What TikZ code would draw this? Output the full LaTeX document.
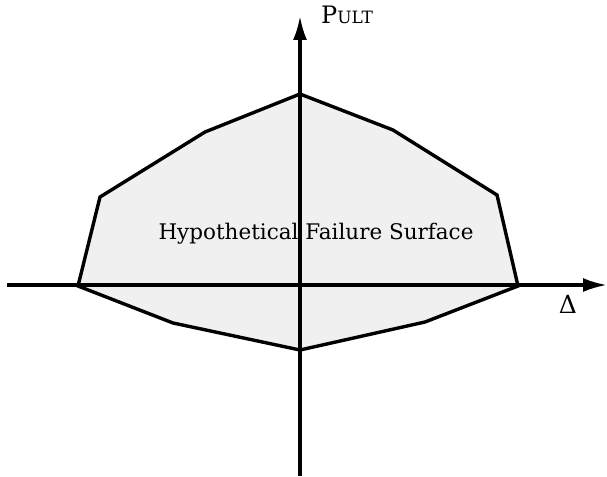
\documentclass[tikz,border=0pt]{standalone}
\usepackage{fontspec}
\setmainfont{DejaVu Serif}
\usetikzlibrary{arrows.meta}
\definecolor{ink}{HTML}{000000}
\definecolor{stipple}{HTML}{F0F0F0}

\begin{document}
\begin{tikzpicture}[
    x=1pt, y=-1pt,
    every node/.style={text=ink, inner sep=0pt},
    axis/.style={line width=3.2pt, color=ink,
                 -{Latex[length=24pt, width=14pt]}},
    surf/.style={line width=3.4pt, color=ink, line join=miter, fill=stipple},
    lab/.style={font=\fontsize{25}{25}\selectfont},
]
\useasboundingbox (0,0) rectangle (607,476);

% ================================================================ surface
\coordinate (l0) at (78, 286);
\coordinate (l1) at (100, 197);
\coordinate (l2) at (205, 132);
\coordinate (tp) at (300, 94);
\coordinate (r2) at (393, 130);
\coordinate (r1) at (497, 195);
\coordinate (r0) at (518, 286);
\coordinate (b2) at (425, 322);
\coordinate (bt) at (300, 350);
\coordinate (b1) at (173, 323);
\draw[surf] (l0) -- (l1) -- (l2) -- (tp) -- (r2) -- (r1) -- (r0)
            -- (b2) -- (bt) -- (b1) -- cycle;

% ================================================================ axes
\coordinate (xs) at (7, 285);
\coordinate (xe) at (607, 285);
\coordinate (ys) at (300, 476);
\coordinate (ye) at (300, 16);
\draw[axis] (xs) -- (xe);
\draw[axis] (ys) -- (ye);

% ================================================================ labels
\node[anchor=base west] (pult) at (321, 24)
    {{\fontsize{24}{24}\selectfont P}{\fontsize{17}{17}\selectfont ULT}};
\node[lab, anchor=base] (delta) at (568, 313) {Δ};
\node[anchor=base, font=\fontsize{21.5}{21.5}\selectfont] (fs) at (316, 239)
    {Hypothetical Failure Surface};
\end{tikzpicture}
\end{document}
